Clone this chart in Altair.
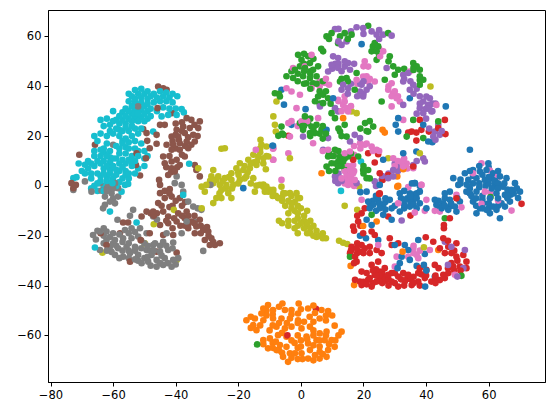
import altair as alt
import pandas as pd

blue = [(19.4,56.9),(-6.2,38.6),(-5.4,32.6),(1.5,30.8),(10.3,35.2),(-3,24.5),(8.2,22.5),(-9.1,16.1),(46.3,31.9),(31.1,27.2),(30.3,24.5),(31.1,21.8),(39.1,24.5),(34.8,35.2),(40.7,17.8),(42,17.5),(32.7,13.1),(36.9,13.8),(26.3,10.5),(25.2,.4),(21,-2.3),(19,-2.5),(36.4,1.1),
(54,14.5),(48.7,3.1),(52.4,5.1),(55,6.4),(57.2,5.8),(59.9,9.1),(59.3,6.4),(61.4,5.1),(53.5,2.4),(56.1,3.1),(58.8,2.4),(63.6,3.8),(65.7,3.1),(68.4,1.1),(70,-2.3),(69.4,-4.9),(67.3,-1.6),(64.6,-.3),(62,.4),(54,-1),(56.1,-2.3),(52.9,-2.3),(55,-6.3),(58.2,-7),(60.4,-5),(62.5,-3),(65.2,-3.6),(66.8,-6.3),(64.1,-7),(61.4,-8.3),(59.3,-9.6),(57.2,-9),(56.1,-11),(60.4,-11),(63.6,-13),(62.5,-9.6),(65.2,-8.3),(50.3,.4),(60,1),(57,-.5),(63,-1),(66,-1.5),(68,-3),(54.5,-4),(58,-4),(53,.5),(51,2.5),(61,3),(63,6),
(21.5,-6.3),(23.1,-7.6),(24.7,-5.6),(26.3,-7.6),(28.4,-5.6),(25.2,-9),(22,-9),(31.6,-3),(36.4,1.1),(34.8,-3),(38,-2.3),(33.2,-5.6),(35.9,-5.6),(38,-7),(34.8,-8.3),(31.6,-10.3),(29,-13.6),(26.3,-11.6),(21,-13.6),(22.6,-15.7),(43.3,-7.6),(45.5,-7),(47.6,-5.6),(49.2,-8.3),(47.1,-9.6),(42.8,-5.6),(50.8,-6.3),(47.6,-2.3),(49.7,-10.3),(40.1,-9),(33,-2),(36,-3.5),(37,-5),(33,-7.5),(36,-7.5),(45,-9),(46,-5),(44.5,-8.5),(48,-7),(24,-4),(27,-5),(30,-8),
(18.9,-20),(20.8,-21),(24.7,-21.7),(30,-23.7),(33.2,-23.7),(34.3,-25.7),(32.2,-28.4),(31.6,-31),(37.5,-21.7),(39.6,-27.3),(37,-32.1),(39.3,-31.7),(40.1,-34),(30.9,-33),(42.8,-36.4),(39.7,-40.4),(34.8,-29.7),(-18.4,-.9),(-8.9,16.1),
(55,4),(58,4.5),(60,3.5),(62,2),(55,1),(57,1),(59,0),(61,-1),(63,1),(65,1),(67,-3.5),(69,-1),(66,-4),(63,-5),(60,-7),(58,-5.5),(56,-5),(54,-3),(58,-9),(60,-9),(63,-8),(51,1),(54,6),(57,8),(60,7.5),(56,-8),(66,-5),(23,-6),(25,-7),(27,-6.5),(22,-7),(24,-10),(34,-5),(35,-4),(37,-3),(32,-5),(35,-6.5),(37,-9),(46,-8),(44,-6),(48,-8),(50,-5),(46,-3),(35.5,1),(38,0),(33,-9),(29,-9),(27,-9.5)]
orange = [(-.7,-47.2),(-10.5,-47.8),(-12,-49.2),(-12.6,-51.2),(-8.9,-49.8),(-5.9,-47.2),(-5.1,-49.8),(-3,-49.8),(-.9,-51.2),(2.3,-49.2),(6.6,-49.8),(8.7,-50.2),(-17.4,-53.9),(-14.7,-53.2),(-12,-53.9),(-15.2,-55.9),(-8.9,-53.2),(-6.2,-53.2),(-3.5,-53.2),(-.9,-53.9),(2.8,-52.5),(6,-53.2),(-14.2,-57.9),(-7.8,-56.5),(-5.1,-57.2),(-3,-56.5),(.2,-57.2),(2.9,-56.5),(10.8,-56.1),(13,-58.5),(8.2,-58.5),(6,-59.2),(-7.3,-59.9),(-4.6,-60.5),(1.8,-60.5),(9.8,-61.9),(7.6,-61.9),(5,-61.9),(-12,-61.9),(-9.9,-61.2),(-10.5,-65.2),(-6.7,-63.9),(-4.6,-64.6),(2.3,-63.2),(10.8,-64.6),(8.7,-65.9),(6,-66.6),(2.9,-65.9),(.2,-67.2),(-1.9,-67.2),(-4.1,-70.6),(-5.7,-68.6),(-7.8,-65.9),(2.3,-69.3),(6,-69.3),(8.2,-68.6),(4.5,-67.9),(-3.5,-67.2),(-2,-63),(-1,-60),(4,-58),(-8,-62.5),(0,-64.5),(-3,-69),(.5,-69.5),(-10,-58),(-9,-51.5),(4.5,-51),
(13.5,27.2),(26.1,22.5),(26.8,21.4),(6.6,5.1),(30.8,3.8),(30.8,-.3),(32.7,6.7),(31.1,0),(24.2,-14.3),(19.9,-16.1),(32.5,-26.4),(15.9,-32.1),(43.9,-25.7),(17,-39.8),
(-11,-50),(-7,-48.5),(-3,-51.5),(0,-49.5),(4,-48),(8,-52),(10,-52),(-16,-52.5),(-13,-56),(-16,-57),(-11,-52),(-4.5,-55),(-1,-55),(1,-54.5),(4,-54.5),(8,-54),(-7,-55),(-9,-56),(12,-60),(11,-62),(-9,-63),(-7,-66),(-3,-62),(0,-62),(4,-60),(6,-62),(8,-60),(-6,-59),(-1,-65),(2,-61.5),(4,-64),(6,-64.5),(9,-63.5),(7,-67.5),(4,-70),(-1,-69.5),(-6,-67),(-12,-63.5),(-9,-65)]
green = [(8.2,60),(9.8,61.3),(11.9,57.3),(14,61.3),(16.2,60.7),(21.5,64.3),(23.6,57.3),(24.7,56),(24.2,54),(22.6,54),(24.2,50.6),(27.9,61.3),(-.9,52.6),(7.1,54),(.2,50.6),(2.3,52),(2.9,49.3),(-.3,48),(-1.9,46.6),(1.3,47.3),(3.9,46.6),(5.5,48),(-4.6,44),(-2.5,43.3),(.7,44),(2.9,43.3),(5,44),(1.8,41.2),(3.9,41.2),(5.5,35.9),(7.1,36.6),(8.7,35.2),(7.1,33.2),(9.8,29.2),(12.5,41.9),(14.6,43.3),(17.8,45.3),(17.2,38.6),(25.8,33.9),(26.8,42.6),(28.4,52),(29.5,48),(31.1,46.6),(30,44.6),(35.9,49.3),(38,46.6),(36,46.5),(39.1,42.6),(38,40.6),(-8.3,37.2),(-6.7,35.9),(-6.2,23.8),(-7.2,20.1),(-5.6,20.5),(1.3,27.9),(-.3,25.2),(2.3,25.2),(3.4,23.8),(5,24.5),(6.6,22.5),(4.5,21.2),(2.9,21.2),(.7,22.5),(10.9,27.2),(14,24.5),(12.5,21.8),(14.6,19.8),(20.5,25.2),(23.1,23.8),(21.5,21.8),(8.7,11.8),(10.9,14.5),(12.5,11.8),(9.8,9.1),(11.9,7.8),(13.5,9.8),(8.2,7.8),(14,6.4),(15.1,11.8),(19.9,6.4),(21.5,6.4),(21,3.1),(18.3,11.8),(33.8,19.8),(35.9,26.5),(39.1,19.2),(43.9,25.9),(22.6,-11.6),(46,-13),(60.6,-4.5),(51.3,-36.1),(15.7,-28.4),(-14,-63.6),(3,46),(1,46),(1,41),(3,39),(6,33),(4.5,34),(12,10),(10.5,12),(11,6),(7,24),(3,27),(.5,24),
(-1,45),(1,49),(3,45),(5,41),(-3,46),(-1,42),(7,42),(4,51),(1,53),(6.5,55),(9,59),(12.5,60),(15,59),(23,56),(25,52),(6,38),(8,38),(9.5,33),(13,43),(15,42),(28,50),(33,47),(36,47.5),(38,44),(37,48),(38,42.5),(-7,37),(-6,21),(1,24),(4,23),(6,21),(8,21),(12,23),(13,20),(9,13),(12,14),(11,9),(13,8),(14,11),(9,6),(10,12),(16,13),(20,5),(22,3),(20,8),(21,22),(19,23),(22,26),(3,20),(7,19)]
red = [(-4,20.1),(38,26.5),(46,26.5),(35.4,21.8),(36.9,21.4),(38.5,22.5),(34.3,21.4),(36.9,18.2),(40.9,21.8),(43.9,23.2),(46.2,20.8),(21.5,13.1),(24.7,12.7),(23.6,9.4),(16.7,10.5),(25.2,5.1),(27.9,4.4),(26.1,2.4),(35.9,7.8),(25,-3.2),(27.9,-12.3),(35,-11.9),(47.6,-13),(45.7,-15.7),(45.7,-17),(25.2,-3),(49.7,-5),(70.5,-7.2),(4.8,-49.3),(-4.3,-60),
(16.7,-16.3),(18.3,-14.3),(19.4,-11),(20.4,-9),(16.2,-24.4),(17.8,-25),(19.4,-23.7),(15.7,-27),(17.3,-28.4),(18.9,-26.4),(20.4,-25),(22,-24.4),(23.6,-19.7),(22.6,-18.3),(24.2,-25.7),(25.8,-27),(19.9,-19),(17.8,-30.4),(19.4,-34.4),(24.7,-30.4),(22.6,-31.7),(28.4,-21),(29,-23.7),(31.1,-23),(17.3,-37.7),(18.8,-38.4),(19.4,-39.8),(21.5,-37.7),(22.6,-40.4),(23.6,-35.7),(25.2,-34.4),(26.8,-33),(24.2,-38.4),(26.3,-37),(27.9,-35.7),(29,-38.4),(31.1,-36.4),(31.1,-40.4),(32.7,-35),(33.2,-38.4),(34.3,-35.7),(35.4,-39.8),(37.5,-35),(37.5,-38.4),(39.6,-37),(41.7,-38.4),(40.1,-33.7),(42.8,-31.7),(44.4,-37.8),(45.5,-35.7),(47.1,-35),(48.7,-32.4),(50.8,-32.4),(49.7,-28.4),(51.9,-27.7),(52.9,-30.4),(52.9,-33),(48.1,-27),(46,-27),(44.4,-25),(49.7,-23),(45.5,-21),(42.3,-22.4),(39.9,-20.6),(47.1,-24.4),(48.1,-31),(22,-37),(24,-36),(26,-39),(28,-37.5),(30,-35),(32,-37.5),(34,-37),(36,-36.5),(38.5,-35.5),(43,-36),(21,-35),(24,-33.5),
(16,-26),(18,-27),(20,-27),(18,-23),(17,-31),(22,-27),(23,-39),(20,-38.5),(25,-36),(27,-38),(25,-38),(29,-35),(28,-40),(30,-39),(33,-40),(35,-37.5),(36,-39),(38,-40),(40,-36),(43,-37),(46,-37),(49,-34),(51,-34),(47,-33),(50,-30),(49,-26),(47,-22),(21,-39.5),(23,-34),(26,-35),(38,-33),(18,-12),(17,-18),(19,-16),(44,-33),(43,-39)]
purple = [(10.9,62.9),(12,63),(14.6,58),(13,56.6),(17.8,63.7),(19.9,63.3),(22.6,62),(24.2,60.7),(26.3,60.7),(29,60.3),(10.3,52),(11.9,51.3),(9.8,48.6),(11.9,47.3),(14,47.9),(15.1,49.3),(8.7,45.9),(15.7,46.6),(13.5,40.6),(15.1,39.2),(13,38.6),(19.4,40.6),(21,38.6),(18.9,37.9),(19.9,35.9),(10.9,31.2),(11.9,29.9),(27.4,47.3),(32.7,44.6),(34.3,45.3),(32.7,41.9),(35.9,40.6),(34.8,38.6),(40.1,35.9),(41.2,35.2),(39.1,33.9),(40.7,32.5),(38,31.2),(41.7,29.9),(39.1,29.2),(32.7,32.5),(42.8,21.8),(44.4,20.5),(42.3,19.8),(43.9,24.5),(6.1,31.9),(.7,19.8),(8.7,19.2),(17.2,20.5),(18.9,19.2),(7.1,14.5),(15.7,17.8),(12.5,3.1),(10.9,3.8),(11.9,1.1),(17.8,1.1),(23.6,1.8),(25.8,2.4),(27.9,3.1),(29.5,6.4),(30.6,7.8),(39.1,11.1),(39.6,9.8),(35.9,8.4),(29.5,3.8),(32.2,-13.9),(46,-22.4),(48.1,-24.4),(52.4,-25.7),(51.9,-33),(50,-36.4),(47,-31.7),(12,49),(16,41),(20,42),(42,33),(38,36),(40,31),
(11,49),(13,46),(14,50),(10,47),(17,49),(15,37),(20,37),(19,41),(22,40),(18,36),(33,43),(35,42),(36,37),(37,39),(38,33),(41,31),(43,33),(37,29),(40,27),(42,30),(41,23),(45,22),(43,18.5),(25,59),(12,58),(16,62),(20,61),(25,62.5),(12,5),(11,2),(13,2),(28,5),(31,6),(26,4),(24,0),(37,10),(30,9)]
brown = [(-45.6,39.9),(-44,39.2),(-42.9,38.6),(-45.8,31.2),(-50.4,22.8),(-49.3,21.2),(-49.1,18.1),(-48.3,15.1),(-46.1,16.9),(-46.1,20.5),(-52.5,13.1),(-49.5,11.1),(-51.4,4.2),(-52.7,8.4),(-45,24.5),(-43.5,24.5),(-36.5,27.2),(-35,26.5),(-32.3,25.9),(-39.7,22.5),(-37.6,23.8),(-35.5,23.2),(-32.8,23.2),(-41.3,19.8),(-39.2,19.8),(-37.1,21.2),(-34.4,20.5),(-42.9,16.5),(-40.8,16.5),(-38.7,17.1),(-36.5,17.8),(-33.9,17.8),(-41.3,14.5),(-38.7,14.5),(-36,15.1),(-37.1,11.8),(-33.9,8.4),(-44,11.8),(-43.5,9.1),(-41.3,9.8),(-39.7,10.5),(-38.7,8.4),(-41.3,7.1),(-40.3,5.8),(-42.4,4.4),(-45.3,2.4),(-45,.4),(-41.9,-1.3),(-32.3,3.8),(-33.4,6.4),(-45,-2.9),(-43.5,-4.9),(-41.3,-4.3),(-38.7,-4.9),(-45.6,-6.9),(-47.2,-10.3),(-49.3,-10.3),(-50.9,-12.3),(-44,-10.3),(-42.4,-12.3),(-39.2,-11),(-36.5,-10.3),(-37.1,-13),(-39.7,-14.3),(-42.4,-15),(-45,-15.7),(-35,-14.3),(-32.3,-13.6),(-33.4,-16.3),(-36,-17),(-31.2,-17.7),(-29.6,-18.3),(-33.9,-19),(-30.7,-21.7),(-28.6,-21),(-25.9,-23),(-27.5,-23.7),(-29.1,-23.7),(-40.8,-19.7),(-44,-19.7),(-48.3,-19),(-55.2,-14.7),(-56.8,-14.7),(-57.8,-19),(-64,-19),(-62.1,-23.7),(-51.2,-21.7),(-46.1,-26.4),(-39.7,-26.8),(-54.6,-30.4),(-73.3,1.1),(-72.7,-.9),(-71.9,.4),(-70.8,12.5),(-65.8,16.5),(-41.3,29.2),(-47,-12),(-41,-8),(-38,-8),(-34,-12),(-41,-17),(-37,-16),
(-40,25),(-38,25.5),(-34,24.5),(-38,22),(-40,20.5),(-36,19.5),(-33,20),(-41,18),(-39,18.5),(-37,16),(-35,16.5),(-40,15),(-38,12.5),(-42,12),(-43,7.5),(-39.5,7.5),(-41.5,5.5),(-43.5,-2),(-42,-3),(-40,-6),(-37,-6.5),(-44.5,-8),(-42,-8.5),(-46,-11),(-48,-11),(-43,-14),(-40.5,-13),(-38,-12),(-36,-12),(-34,-15),(-36,-15.5),(-38.5,-16),(-32,-16),(-30,-16.5),(-32,-19),(-28,-22.5),(-29.5,-20)]
pink = [(6.1,41.9),(7.7,41.3),(9,40.6),(17.8,42.6),(19.9,43.9),(23.6,41.9),(21.5,41.9),(20.4,50),(21.5,47.9),(26.3,54),(25.3,52),(3.4,52.6),(-2.5,47.3),(1.3,48),(-4.6,39.2),(-3,37.9),(-.3,36.6),(-1.4,31.2),(3.4,39.2),(11.9,34.6),(14,33.9),(14.6,31.2),(15.1,29.9),(13.5,32.5),(29,31.9),(27.9,38.6),(29.5,37.2),(30.6,35.2),(31.6,33.9),(29,41.2),(34.8,45.9),(43.3,32.5),(32.7,26.5),(-4,25.2),(.2,25.9),(5.5,27.2),(3.9,17.1),(-3.5,19.8),(-4,13.1),(-8.8,10.5),(-8.8,15.1),(18.9,17.1),(20.4,16.5),(22.6,15.8),(24.2,14.5),(11.4,13.8),(8.7,14.5),(14,13.1),(15.7,13.8),(17,12.5),(15.7,6.4),(16.7,5.1),(14.6,4.4),(15.7,2.4),(14,2.4),(17.2,2.4),(15.1,.4),(16.7,8.4),(32.2,9.8),(32.7,7.8),(31.6,8.4),(33.8,9),(29.5,11.1),(35.9,7.1),(-6.2,2.4),(38.5,.4),
(57.7,9.1),(60.4,6.2),(63,3.8),(55,5.1),(58.8,-2.3),(60.6,-2.7),(63,-5.9),(57.7,-7.2),(67.3,-9.9),(49.7,-3.6),(31.1,-7),(34.3,-.5),(38.5,.4),(40.1,-5.6),(39.6,-10),(36.4,-10.7),(42.8,-10),(44.4,-10.3),(51.3,-8.6),(19.4,-5.6),(35.9,-25),(37,-27.7),(37.5,-29),(30.6,-28.4),(34.3,-28.4),(41.2,-25.7),(24.7,-23.7),(30,-32.4),(49.2,-35.7),(-8.9,14.9),(-14.4,14.5),(-8.9,10.5),
(6,40),(8,43),(18,41),(22,43),(21,44),(20,48),(25,55),(28,40),(30,38),(29,36),(31,36),(19,15),(21,17),(23,14),(17,16),(25,14),(14,6),(16,4),(15,8),(17,6),(13,3),(16,1),(17,0),(14,1),(31,10),(33,11),(34,7),(30,8),(12,34),(14,36),(13,30),(16,32),(-1,24),(-3,26),(2,26),(7,14),(36,-27),(38,-26),(36,-24)]
gray = [(-72.7,-1.6),(-69,1.8),(-64.2,1.1),(-66.9,-2.3),(-63.7,-1.9),(-61.6,-.3),(-59.4,1.1),(-58.4,-.9),(-60.5,-2.9),(-62.6,-4.3),(-58.4,-4.3),(-61,-6.3),(-62.6,-7.6),(-59.4,-7),(-63.2,-9),(-52,31.9),(-60,16.5),(-39.7,3.8),(-40.3,1.1),(-38.1,.4),(-37.6,-2.3),(-36,-6.3),(-34.4,-8.3),(-31.8,-9.6),(-33,-9),(-36.5,-14.3),(-33.9,-14.3),(-38.1,-19),(-31.2,-26.1),(-53.6,-9.6),(-54.6,-12),(-58.6,-13.6),(-47.2,-12.3),(-46,-13.5),(-28.9,.4),
(-66.4,-19.7),(-64.2,-18.3),(-62.1,-18.3),(-60,-19),(-56.2,-17.7),(-54.1,-17),(-51.4,-17),(-49.3,-19),(-62.1,-21.7),(-59.4,-21.7),(-56.8,-21),(-54.1,-21),(-52,-20.3),(-64.2,-25.7),(-61,-24.4),(-58.4,-25),(-55.7,-24.4),(-53,-24.4),(-59.4,-27.7),(-56.8,-28.4),(-54.6,-27),(-52,-27.7),(-49.3,-25.7),(-46.6,-23),(-44,-22.4),(-40.8,-22.7),(-42.4,-25.7),(-45,-26.4),(-47.7,-27.7),(-50.9,-31),(-48.8,-30.4),(-46.1,-32.4),(-44,-31.7),(-41.3,-32.4),(-46.1,-29.7),(-43.5,-29),(-39.2,-29),(-40.8,-29.7),(-47.2,-23.7),(-42.9,-19),(-65.5,-21.5),(-63,-20),(-60.5,-26.5),(-50,-23),(-49,-28.5),
(-65,-18),(-63,-17),(-61,-20.5),(-58,-19.5),(-55,-19),(-53,-18.5),(-60,-23),(-57,-22.5),(-55,-23),(-51,-22),(-63,-23),(-62,-26),(-59,-24),(-57,-26),(-55,-26),(-53,-26),(-51,-25),(-49,-24),(-47,-26),(-45,-24),(-43,-24),(-41,-25),(-58,-29),(-55,-29),(-53,-29.5),(-50,-29),(-48,-32),(-45,-31),(-42.5,-31),(-40,-31.5),(-44.5,-28),(-48,-26),(-52,-30),(-62,-2),(-60,-5),(-62,-1),(-60,-1)]
olive = [(17.8,29.2),(16.2,29.9),(41.4,39.9),(38,13.1),(27.9,11.1),(18.6,-.3),(-7.8,33.9),(-8.8,27.9),(-8.3,24.5),(-8,21.8),(-3.5,11.1),(39.3,-24.6),(12.2,-22),(13.5,-22.8),(14.8,-23.3),(14,-8),(18,-9.6),(-47,-15.4),(-49.9,-23),(-40.6,-9.6),(-63.4,-26.8),(-39.7,-29.7),(-32.8,7.1),(-31.7,-9),
(-25.4,14.9),(-24.3,15.1),(-12.9,18.5),(-12.6,16.5),(-11,15.8),(-15.2,12.5),(-16.8,10.5),(-19.5,9.1),(-13.6,11.8),(-12,11.1),(-10.4,11.8),(-11.2,6.7),(-20.6,7.1),(-18.4,6.4),(-16.3,7.1),(-14.2,8.4),(-22.2,5.1),(-19.9,4.4),(-17.4,3.8),(-28,6.4),(-28.6,3.8),(-26.4,3.8),(-24.3,3.1),(-22.2,2.4),(-19.5,2.4),(-31.7,-.3),(-30.2,.4),(-28,1.1),(-25.9,.4),(-23.8,.4),(-21.6,.4),(-30.7,-2.3),(-25.4,-1.6),(-23.2,-2.9),(-22.2,-4.9),(-25.4,-4.9),(-28,-6.9),(-27,-4.9),(-15.2,3.1),(-14.2,.1),(-13.1,.4),(-14.7,-2.3),(-11,-.3),(-9.9,-1.6),(-8.9,-2.9),(-7.3,-4.9),(-11.5,-2.3),(-8,-4),(-6,-6),(-5,-3),(-3,-4),(-1,-5),(-5,-8),(-3,-9),(-1,-8),(0,-9),(-4,-11),(-1,-11),(1,-12),(2,-10),(-2,-14),(0,-15),(3,-14),(-4,-16),(-2,-17),(1,-17),(3,-17),(5,-18),(6,-20),(4,-20),(7,-19),(2,-19),(8,-21),(-1,-19),(-7,-14),(-6,-15),(-4,-14),(-12,-.3),(-8.8,-1.6),(-6.2,-.3),(-3.5,-2.9),(-1.4,-2.9),(-.3,-4.9),(-5.6,-2.9),(-10.4,-2.3),(-13,15),(-11,12),(-12,9),
(-18,8),(-17,5.5),(-20,5.5),(-23,3.5),(-25,2),(-27,2.5),(-29,2),(-24,-1),(-22,-1),(-26,-3),(-15,9.5),(-14,10),(-16,9),(-13,13.5),(-18,3),(-20,1),(-16,1),(-12,.5),(-9,-4),(-6,-4.5),(-4,-6),(-2,-6.5),(-3,-7),(-2,-10),(-1,-13),(1,-14),(-1,-16),(2,-15.5),(4,-16),(3,-19),(5,-20.5),(7,-21)]
cyan = [(19.2,9.8),(12.8,-2),(-44.5,27.9),(-42.4,28.5),(-39.7,28.5),(-38.1,30.8),(-37.4,29.5),(-47.2,21.8),(-37.6,-3.6),(-35.7,8.9),(-52.5,-14.7),(-65.8,-24.7),(-61,-10.3),(-56.2,.4),(-55.2,.8),(-60.2,1.1),(-57.3,-2.3),(-72.7,3.1),(-71.7,3.5),
(-55,37),(-53,38.5),(-51,39),(-49,38),(-47,37),(-45,38),(-43,37.5),(-41,37),(-39.5,36),(-55,34),(-53,35),(-51,35.5),(-49,35),(-47,33.5),(-45,34),(-43,34),(-41,33.5),(-40,31),(-42,31),(-44,31.5),(-56,31),(-54,32),(-52,32),(-50,32),(-48,31),(-46,30),(-56,28),(-54,29),(-52,29),(-50,29),(-48,28),(-58,28),(-60,30),(-62,27),(-64,26.5),(-63,24),(-60,26),(-58,25),(-56,25),(-54,26),(-52,26),(-50,26),(-55,22),(-57,22),(-53,23),(-51,23),(-59,23),(-61,22),(-62,20),(-58,20),(-56,19),(-54,20),(-52,21),
(-66,20),(-64,21),(-62,17),(-65,18),(-63,15),(-61,14),(-59,16),(-57,17),(-55,15),(-53,15),(-51,17),(-50,14),(-49,12),(-52,12),(-54,12),(-56,13),(-58,13),(-60,11),(-62,12),(-64,12),(-66,12),(-68,10),(-71,9),(-70,6),(-68,7),(-66,8),(-64,9),(-62,8),(-60,8),(-58,9),(-56,9),(-65,5),(-63,5),(-61,5),(-58,6),(-56,6),(-54,8),(-55,5),(-53,5),(-52,7),(-50,8),(-67,3),(-64,2),(-62,2),(-60,3),(-57,3),(-55,3),(-66,0),(-67,-1),(-65,-2),(-63,-2),(-61,0),(-59,0),
(-54,36),(-52,37),(-50,37),(-48,36),(-46,35.5),(-44,36),(-42,35.5),(-53,33.5),(-51,33.5),(-49,33),(-55,30),(-53,30.5),(-51,30.5),(-49,30),(-57,29.5),(-55,27),(-53,27.5),(-51,27.5),(-49,27),(-59,26.5),(-57,26.5),(-61,24.5),(-58,22.5),(-56,23.5),(-54,24),(-60,21),(-57,18),(-55,17.5),(-53,18),(-63,13.5),(-61,11.5),(-59,11),(-57,10.5),(-55,10.5),(-53,10),(-65,10),(-63,10),(-61,9.5),(-67,9),(-69,8.5),(-69,5),(-67,5),(-63,7),(-61,6.5),(-59,6.5),(-57,7.5),(-64,4),(-62,3.5),(-59,4.5),(-56,4.5),(-65,1),(-63,0),(-60,1.5),(-58,1.5),(-66,14),(-64,14.5),(-58,15),(-56,15.5),(-52,14),(-50,11),(-54,9.5)]

classes = [("0", blue), ("1", orange), ("2", green), ("3", red), ("4", purple),
           ("5", brown), ("6", pink), ("7", gray), ("8", olive), ("9", cyan)]
palette = ["#1f77b4", "#ff7f0e", "#2ca02c", "#d62728", "#9467bd",
           "#8c564b", "#e377c2", "#7f7f7f", "#bcbd22", "#17becf"]

rows = []
for name, pts in classes:
    n = len(pts)
    for i, (px, py) in enumerate(pts):
        rows.append({"x": px, "y": py, "c": name, "o": ((i * 37) % n) / n})
df = pd.DataFrame(rows).sort_values("o", kind="stable").reset_index(drop=True)

chart = (
    alt.Chart(df)
    .mark_circle(size=44, opacity=1)
    .encode(
        x=alt.X("x:Q", scale=alt.Scale(domain=[-80.8, 78], nice=False, zero=False),
                axis=alt.Axis(values=[-80, -60, -40, -20, 0, 20, 40, 60], title=None, grid=False)),
        y=alt.Y("y:Q", scale=alt.Scale(domain=[-78.7, 70.6], nice=False, zero=False),
                axis=alt.Axis(values=[-60, -40, -20, 0, 20, 40, 60], title=None, grid=False)),
        color=alt.Color("c:N", scale=alt.Scale(domain=[c[0] for c in classes], range=palette), legend=None),
    )
    .properties(width=497, height=372, padding={"left": 40, "top": 2, "right": 1, "bottom": 23},
                autosize=alt.AutoSizeParams(type="none"))
    .configure_view(stroke="black", strokeWidth=1)
    .configure_axis(domainColor="black", tickColor="black", tickSize=4, labelColor="black",
                    labelFont="DejaVu Sans", labelFontSize=11.5, labelPadding=3, domainWidth=1, tickWidth=1)
)
chart.save("out.html", embed_options={"renderer": "svg", "actions": False})
